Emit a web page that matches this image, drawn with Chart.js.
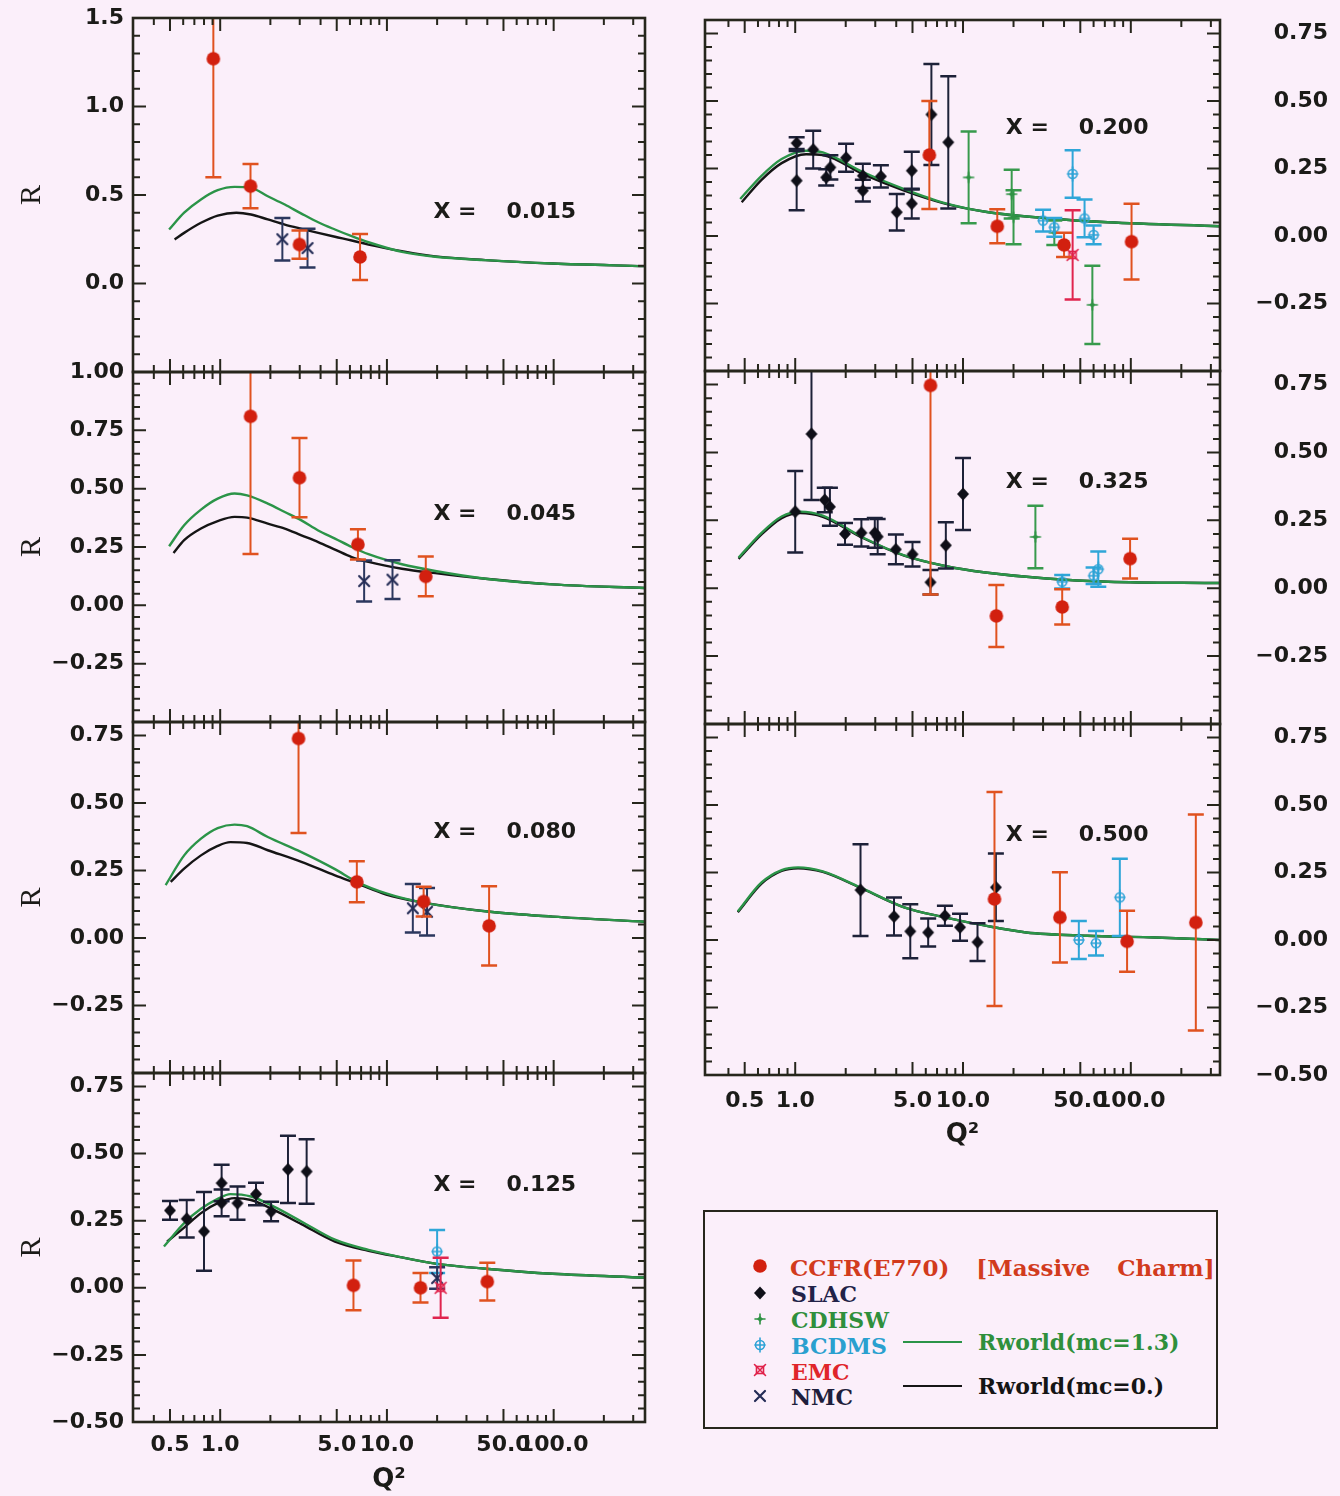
<!DOCTYPE html>
<html>
<head>
<meta charset="utf-8">
<title>R versus Q²</title>
<script src="https://cdn.jsdelivr.net/npm/chart.js@4.4.1/dist/chart.umd.min.js"></script>
<style>
  html, body { margin: 0; padding: 0; background: #fbeffa; }
  #fig { position: relative; width: 1340px; height: 1496px; overflow: hidden; background: #fbeffa; }
  #fig canvas { position: absolute; }
  #legendBox { position: absolute; left: 703px; top: 1210px; width: 511px; height: 215px; border: 2.5px solid #26261c; }
  .lgtxt { position: absolute; font-family: "DejaVu Serif", serif; font-weight: bold; font-size: 22px; line-height: 26px; white-space: pre; }
  .lgline { position: absolute; height: 2px; }
</style>
</head>
<body>
<div id="fig">
  <div id="legendBox"></div>
  <div class="lgtxt" style="left:790px;top:1255px;font-size:23px;color:#d23b1d;word-spacing:19px">CCFR(E770) [Massive Charm]</div>
  <div class="lgtxt" style="left:791px;top:1281px;color:#222248">SLAC</div>
  <div class="lgtxt" style="left:791px;top:1307px;color:#2f8f3c">CDHSW</div>
  <div class="lgtxt" style="left:791px;top:1333px;color:#2aa0cf">BCDMS</div>
  <div class="lgtxt" style="left:791px;top:1359px;color:#e0242a">EMC</div>
  <div class="lgtxt" style="left:791px;top:1384px;color:#1e1e3c">NMC</div>
  <div class="lgline" style="left:903px;top:1341px;width:59px;background:#2b9448"></div>
  <div class="lgline" style="left:903px;top:1385px;width:59px;background:#151515"></div>
  <div class="lgtxt" style="left:978px;top:1329px;color:#2f8f3c">Rworld(mc=1.3)</div>
  <div class="lgtxt" style="left:978px;top:1373px;color:#151515">Rworld(mc=0.)</div>
</div>
<script>
// ---------- measurements: [Q², R, error] ----------
// x = 0.015
const X015_CCFR = [[0.91,1.27,0.67],[1.52,0.55,0.125],[2.99,0.22,0.08],[6.9,0.15,0.13]];
const X015_NMC  = [[2.36,0.25,0.12],[3.34,0.20,0.11]];
// x = 0.045
const X045_CCFR = [[1.52,0.81,0.59],[2.99,0.547,0.17],[6.7,0.261,0.065],[17.1,0.124,0.085]];
const X045_NMC  = [[7.3,0.104,0.088],[10.8,0.11,0.083]];
// x = 0.080
const X080_CCFR = [[2.95,0.739,0.35],[6.6,0.208,0.076],[16.6,0.135,0.055],[41,0.045,0.147]];
const X080_NMC  = [[14.3,0.11,0.09],[17.4,0.097,0.088]];
// x = 0.125
const X125_SLAC = [[0.5,0.288,0.035],[0.63,0.257,0.07],[0.80,0.21,0.147],[1.02,0.39,0.068],[1.02,0.316,0.05],
                   [1.27,0.315,0.062],[1.64,0.349,0.042],[2.02,0.284,0.036],[2.55,0.441,0.125],[3.3,0.433,0.12]];
const X125_CCFR = [[6.3,0.009,0.093],[15.9,0.0,0.055],[40,0.023,0.07]];
const X125_BCDMS = [[20,0.135,0.08]];
const X125_NMC  = [[20,0.036,0.04]];
const X125_EMC  = [[21,0.0,0.112]];
// x = 0.200
const X200_SLAC = [[1.02,0.344,0.022],[1.02,0.205,0.11],[1.28,0.32,0.07],[1.53,0.217,0.03],[1.62,0.254,0.045],
                   [2.01,0.29,0.052],[2.53,0.223,0.045],[2.53,0.168,0.04],[3.24,0.221,0.041],[4.03,0.088,0.068],
                   [4.95,0.242,0.07],[4.95,0.12,0.055],[6.48,0.45,0.187],[8.17,0.347,0.245]];
const X200_CCFR = [[6.3,0.30,0.20],[16.0,0.036,0.063],[40,-0.033,0.045],[101,-0.021,0.14]];
const X200_CDHSW = [[10.8,0.217,0.17],[19.5,0.155,0.09],[20,0.069,0.1],[35,0.012,0.045],[59,-0.255,0.145]];
const X200_BCDMS = [[30,0.057,0.04],[35,0.032,0.035],[45,0.23,0.088],[53,0.065,0.07],[60,0.004,0.035]];
const X200_EMC  = [[45,-0.07,0.165]];
// x = 0.325
const X325_SLAC = [[1.0,0.282,0.15],[1.25,0.568,0.243],[1.5,0.325,0.045],[1.61,0.3,0.07],[1.98,0.2,0.04],
                   [2.48,0.204,0.05],[2.98,0.204,0.055],[3.1,0.19,0.065],[3.98,0.143,0.055],[5.0,0.125,0.045],
                   [6.4,0.022,0.045],[7.9,0.158,0.085],[10.0,0.347,0.133]];
const X325_CCFR = [[6.4,0.747,0.77],[15.8,-0.102,0.114],[39,-0.069,0.065],[99,0.109,0.073]];
const X325_CDHSW = [[27,0.189,0.115]];
const X325_BCDMS = [[39,0.024,0.025],[60,0.046,0.03],[64,0.07,0.065]];
// x = 0.500
const X500_SLAC = [[2.45,0.185,0.17],[3.88,0.087,0.07],[4.85,0.032,0.1],[6.2,0.028,0.052],[7.8,0.09,0.037],
                   [9.6,0.047,0.05],[12.2,-0.008,0.07],[15.7,0.195,0.125]];
const X500_CCFR = [[15.4,0.152,0.396],[37.8,0.084,0.167],[95,-0.005,0.113],[244,0.065,0.4]];
const X500_BCDMS = [[49,0.0,0.07],[62,-0.012,0.045],[86,0.158,0.143]];

// ---------- Rworld curves: [Q², R] ----------
const X015_RW13 = [[0.494,0.305],[0.608,0.40],[0.767,0.475],[0.966,0.527],[1.22,0.546],[1.53,0.54],[1.93,0.493],[2.44,0.446],[3.07,0.395],[3.87,0.346],[4.88,0.305],[6.15,0.267],[7.75,0.233],[12.3,0.179],[19.5,0.151],[39,0.132],[98.6,0.113],[353,0.098]];
const X015_RW0  = [[0.533,0.249],[0.608,0.286],[0.767,0.343],[0.966,0.384],[1.25,0.40],[1.53,0.39],[1.93,0.362],[2.44,0.333],[3.07,0.309],[3.87,0.286],[4.88,0.264],[6.15,0.243],[7.75,0.22],[12.3,0.183],[19.5,0.153],[39,0.132],[98.6,0.113],[353,0.098]];
const X045_RW13 = [[0.494,0.253],[0.608,0.343],[0.767,0.41],[0.966,0.457],[1.22,0.479],[1.45,0.471],[1.93,0.436],[2.44,0.40],[3.07,0.364],[3.87,0.321],[4.88,0.286],[6.15,0.25],[7.75,0.219],[12.3,0.176],[19.5,0.147],[39,0.114],[98.6,0.09],[353,0.074]];
const X045_RW0  = [[0.525,0.224],[0.608,0.279],[0.767,0.329],[0.966,0.361],[1.22,0.379],[1.45,0.376],[1.93,0.35],[2.44,0.329],[3.07,0.30],[3.87,0.271],[4.88,0.239],[6.15,0.207],[7.75,0.186],[12.3,0.157],[19.5,0.138],[39,0.114],[98.6,0.09],[353,0.074]];
const X080_RW13 = [[0.471,0.196],[0.608,0.306],[0.767,0.368],[0.966,0.407],[1.22,0.42],[1.45,0.414],[1.93,0.374],[3.07,0.318],[4.88,0.255],[6.6,0.208],[9.9,0.165],[15.6,0.134],[41.5,0.097],[98.6,0.079],[353,0.06]];
const X080_RW0  = [[0.505,0.208],[0.608,0.257],[0.767,0.306],[0.966,0.341],[1.15,0.355],[1.45,0.352],[1.93,0.325],[3.07,0.282],[4.88,0.232],[6.6,0.202],[9.9,0.161],[15.6,0.134],[41.5,0.097],[98.6,0.079],[353,0.06]];
const X125_RW13 = [[0.46,0.154],[0.608,0.241],[0.767,0.294],[0.966,0.331],[1.15,0.349],[1.53,0.34],[2.1,0.302],[3.07,0.247],[4.88,0.179],[7.75,0.141],[12.3,0.113],[19.5,0.09],[39,0.071],[98.6,0.052],[353,0.038]];
const X125_RW0  = [[0.48,0.172],[0.608,0.224],[0.767,0.278],[0.966,0.315],[1.22,0.334],[1.53,0.327],[2.1,0.29],[3.07,0.237],[4.88,0.172],[7.75,0.138],[12.3,0.113],[19.5,0.09],[39,0.071],[98.6,0.052],[353,0.038]];
const X200_RW13 = [[0.47,0.137],[0.63,0.223],[0.83,0.285],[1.16,0.316],[1.46,0.31],[2.55,0.236],[4.46,0.174],[7.8,0.122],[13.6,0.09],[31.5,0.066],[73,0.051],[340,0.036]];
const X200_RW0  = [[0.48,0.125],[0.63,0.208],[0.83,0.27],[1.16,0.303],[1.46,0.30],[2.55,0.228],[4.46,0.168],[7.8,0.12],[13.6,0.09],[31.5,0.066],[73,0.051],[340,0.036]];
const X325_RW13 = [[0.46,0.113],[0.63,0.204],[0.83,0.264],[1.07,0.282],[1.46,0.267],[2.55,0.186],[4.46,0.121],[7.8,0.082],[13.6,0.058],[31.5,0.036],[73,0.024],[340,0.019]];
const X325_RW0  = [[0.46,0.108],[0.63,0.198],[0.83,0.258],[1.07,0.277],[1.46,0.263],[2.55,0.184],[4.46,0.12],[7.8,0.082],[13.6,0.058],[31.5,0.036],[73,0.024],[340,0.019]];
const X500_RW13 = [[0.455,0.106],[0.63,0.213],[0.83,0.259],[1.04,0.269],[1.46,0.254],[2.55,0.189],[4.46,0.121],[7.8,0.084],[13.6,0.053],[23.8,0.028],[55,0.016],[128,0.01],[340,0.0]];
const X500_RW0  = [[0.455,0.103],[0.63,0.209],[0.83,0.256],[1.04,0.266],[1.46,0.252],[2.55,0.188],[4.46,0.121],[7.8,0.084],[13.6,0.053],[23.8,0.028],[55,0.016],[128,0.01],[340,0.0]];

// ---------- axis ticks ----------
const Q_LABELS = [0.5, 1, 5, 10, 50, 100];
const Q_LABEL_TEXT = ['0.5', '1.0', '5.0', '10.0', '50.0', '100.0'];
const Q_TICKS = [0.4,0.5,0.6,0.7,0.8,0.9,1,2,3,4,5,6,7,8,9,10,20,30,40,50,60,70,80,90,100,200,300];
const Y_LABELS_X015 = [1.5, 1.0, 0.5, 0.0];
const Y_LABELS_MID  = [1.0, 0.75, 0.5, 0.25, 0.0, -0.25];
const Y_LABELS_UP   = [0.75, 0.5, 0.25, 0.0, -0.25];
const Y_LABELS_LOW  = [0.75, 0.5, 0.25, 0.0, -0.25, -0.5];

// ---------- styling ----------
const INK = '#1b1b18';
const TICK_FONT = { family: 'DejaVu Sans', size: 22, weight: 'bold' };
const GREEN = '#2b9448', BLACK = '#151515';
const ERR_COLOR = { ccfr: '#e0521f', slac: '#1d2138', cdhsw: '#379a4c', bcdms: '#2fa6d8', emc: '#e0244e', nmc: '#2b375e' };

function makeMarker(kind) {
  const c = document.createElement('canvas');
  c.width = 20; c.height = 20;
  const g = c.getContext('2d');
  g.translate(10, 10);
  g.lineCap = 'round';
  if (kind === 'ccfr') {
    g.fillStyle = '#d2200f'; g.beginPath(); g.arc(0, 0, 6.8, 0, Math.PI * 2); g.fill();
  } else if (kind === 'slac') {
    g.fillStyle = '#0f0f18'; g.beginPath();
    g.moveTo(0, -6.5); g.lineTo(6, 0); g.lineTo(0, 6.5); g.lineTo(-6, 0); g.closePath(); g.fill();
  } else if (kind === 'cdhsw') {
    g.strokeStyle = g.fillStyle = '#2f9244'; g.lineWidth = 1.6;
    g.beginPath(); g.moveTo(-5, 0); g.lineTo(5, 0); g.moveTo(0, -5); g.lineTo(0, 5); g.stroke();
    g.beginPath(); g.moveTo(0, -3); g.lineTo(3, 0); g.lineTo(0, 3); g.lineTo(-3, 0); g.closePath(); g.fill();
  } else if (kind === 'bcdms') {
    g.strokeStyle = '#2ea3d6'; g.lineWidth = 1.6;
    g.beginPath(); g.arc(0, 0, 4.5, 0, Math.PI * 2); g.stroke();
    g.beginPath(); g.moveTo(-5, 0); g.lineTo(5, 0); g.moveTo(0, -7); g.lineTo(0, 7); g.stroke();
  } else if (kind === 'emc') {
    g.strokeStyle = '#e0224a'; g.lineWidth = 1.6;
    g.strokeRect(-3.5, -3.5, 7, 7);
    g.beginPath(); g.moveTo(-5.5, -5.5); g.lineTo(5.5, 5.5); g.moveTo(5.5, -5.5); g.lineTo(-5.5, 5.5); g.stroke();
  } else if (kind === 'nmc') {
    g.strokeStyle = '#242c56'; g.lineWidth = 2.2;
    g.beginPath(); g.moveTo(-5, -5); g.lineTo(5, 5); g.moveTo(5, -5); g.lineTo(-5, 5); g.stroke();
  }
  return c;
}
const MARKERS = {};
['ccfr', 'slac', 'cdhsw', 'bcdms', 'emc', 'nmc'].forEach(k => { MARKERS[k] = makeMarker(k); });

// vertical error bars with caps, drawn just before each point dataset
const errorBars = {
  id: 'errorBars',
  beforeDatasetDraw(chart, args) {
    const ds = chart.data.datasets[args.index];
    if (!ds.errColor) return;
    const { ctx, chartArea: a, scales: { x, y } } = chart;
    ctx.save();
    ctx.beginPath(); ctx.rect(a.left, a.top, a.right - a.left, a.bottom - a.top); ctx.clip();
    ctx.strokeStyle = ds.errColor;
    for (const p of ds.data) {
      const px = x.getPixelForValue(p.x);
      const yt = y.getPixelForValue(p.y + p.e);
      const yb = y.getPixelForValue(p.y - p.e);
      ctx.lineWidth = 2;
      ctx.beginPath(); ctx.moveTo(px, yt); ctx.lineTo(px, yb); ctx.stroke();
      ctx.lineWidth = 2.5;
      ctx.beginPath();
      ctx.moveTo(px - 8, yt); ctx.lineTo(px + 8, yt);
      ctx.moveTo(px - 8, yb); ctx.lineTo(px + 8, yb);
      ctx.stroke();
    }
    ctx.restore();
  }
};

// boxed frame with inward ticks on all four sides
const frameTicks = {
  id: 'frameTicks',
  afterDraw(chart, args, opts) {
    const { ctx, chartArea: a, scales: { x, y } } = chart;
    ctx.save();
    ctx.strokeStyle = '#26261c';
    ctx.lineWidth = 2;
    ctx.beginPath();
    for (const v of Q_TICKS) {
      const px = x.getPixelForValue(v);
      const len = Q_LABELS.includes(v) ? 13 : 7;
      ctx.moveTo(px, a.top); ctx.lineTo(px, a.top + len);
      ctx.moveTo(px, a.bottom); ctx.lineTo(px, a.bottom - len);
    }
    const n = Math.round((opts.max - opts.min) / opts.minor);
    for (let i = 0; i <= n; i++) {
      const v = opts.min + i * opts.minor;
      const r = v / opts.major;
      const len = Math.abs(r - Math.round(r)) < 1e-6 ? 13 : 7;
      const py = y.getPixelForValue(v);
      ctx.moveTo(a.left, py); ctx.lineTo(a.left + len, py);
      ctx.moveTo(a.right, py); ctx.lineTo(a.right - len, py);
    }
    ctx.stroke();
    ctx.lineWidth = 2.6;
    ctx.strokeRect(a.left, a.top, a.right - a.left, a.bottom - a.top);
    ctx.restore();
  }
};

// "X =  value" tag inside each panel
const xTag = {
  id: 'xTag',
  afterDatasetsDraw(chart, args, opts) {
    const { ctx, scales: { x, y } } = chart;
    const px = x.getPixelForValue(opts.q), py = y.getPixelForValue(opts.r);
    ctx.save();
    ctx.font = 'bold 22px "DejaVu Sans"';
    ctx.fillStyle = INK;
    ctx.textBaseline = 'middle';
    ctx.textAlign = 'left';
    ctx.fillText('X =', px, py);
    ctx.fillText(opts.text, px + 73, py);
    ctx.restore();
  }
};

const LEFT_COL  = { left: 0,   width: 660, padLeft: 0,  axisW: 133, padRight: 15, qMin: 0.316, qMax: 353, axisPos: 'left',  tagQ: 19 };
const RIGHT_COL = { left: 690, width: 650, padLeft: 15, axisW: 108, padRight: 12, qMin: 0.29,  qMax: 340, axisPos: 'right', tagQ: 18 };

const PANELS = [
  { col: LEFT_COL, top: 18, bottom: 372, yMin: -0.5, yMax: 1.5, major: 0.5, minor: 0.1, labels: Y_LABELS_X015, dec: 1,
    tag: '0.015', tagR: 0.40, sets: [['ccfr', X015_CCFR], ['nmc', X015_NMC]], rw13: X015_RW13, rw0: X015_RW0 },
  { col: LEFT_COL, top: 372, bottom: 722, yMin: -0.5, yMax: 1.0, major: 0.25, minor: 0.05, labels: Y_LABELS_MID, dec: 2,
    tag: '0.045', tagR: 0.39, sets: [['ccfr', X045_CCFR], ['nmc', X045_NMC]], rw13: X045_RW13, rw0: X045_RW0 },
  { col: LEFT_COL, top: 722, bottom: 1073, yMin: -0.5, yMax: 0.8, major: 0.25, minor: 0.05, labels: Y_LABELS_UP, dec: 2,
    tag: '0.080', tagR: 0.39, sets: [['ccfr', X080_CCFR], ['nmc', X080_NMC]], rw13: X080_RW13, rw0: X080_RW0 },
  { col: LEFT_COL, top: 1073, bottom: 1422, yMin: -0.5, yMax: 0.8, major: 0.25, minor: 0.05, labels: Y_LABELS_LOW, dec: 2,
    tag: '0.125', tagR: 0.383, bottomAxis: { h: 74, pad: 10 },
    sets: [['ccfr', X125_CCFR], ['emc', X125_EMC], ['nmc', X125_NMC], ['bcdms', X125_BCDMS], ['slac', X125_SLAC]],
    rw13: X125_RW13, rw0: X125_RW0 },
  { col: RIGHT_COL, top: 20, bottom: 371, yMin: -0.5, yMax: 0.8, major: 0.25, minor: 0.05, labels: Y_LABELS_UP, dec: 2,
    tag: '0.200', tagR: 0.40,
    sets: [['ccfr', X200_CCFR], ['emc', X200_EMC], ['bcdms', X200_BCDMS], ['cdhsw', X200_CDHSW], ['slac', X200_SLAC]],
    rw13: X200_RW13, rw0: X200_RW0 },
  { col: RIGHT_COL, top: 371, bottom: 724, yMin: -0.5, yMax: 0.8, major: 0.25, minor: 0.05, labels: Y_LABELS_UP, dec: 2,
    tag: '0.325', tagR: 0.39,
    sets: [['ccfr', X325_CCFR], ['bcdms', X325_BCDMS], ['cdhsw', X325_CDHSW], ['slac', X325_SLAC]],
    rw13: X325_RW13, rw0: X325_RW0 },
  { col: RIGHT_COL, top: 724, bottom: 1075, yMin: -0.5, yMax: 0.8, major: 0.25, minor: 0.05, labels: Y_LABELS_LOW, dec: 2,
    tag: '0.500', tagR: 0.387, bottomAxis: { h: 76, pad: 13 },
    sets: [['ccfr', X500_CCFR], ['bcdms', X500_BCDMS], ['slac', X500_SLAC]],
    rw13: X500_RW13, rw0: X500_RW0 }
];

function fmt(v, dec) {
  const s = Math.abs(v).toFixed(dec);
  return v < -1e-9 ? '\u2212' + s : s;
}

const fig = document.getElementById('fig');
// generous outer margin so the axis label overhang never shrinks the plotting box
const MARGIN = 60;

PANELS.forEach(p => {
  const col = p.col;
  const xH = p.bottomAxis ? p.bottomAxis.h : 0;
  const padBottom = p.bottomAxis ? 0 : MARGIN;
  const cv = document.createElement('canvas');
  cv.width = col.width;
  cv.height = (p.bottom - p.top) + MARGIN + padBottom + xH;
  cv.style.left = col.left + 'px';
  cv.style.top = (p.top - MARGIN) + 'px';
  fig.insertBefore(cv, fig.firstChild);

  const datasets = p.sets.map(([kind, arr]) => ({
    label: kind,
    data: arr.map(([q, r, e]) => ({ x: q, y: r, e })),
    pointStyle: MARKERS[kind],
    pointRadius: 6,
    showLine: false,
    errColor: ERR_COLOR[kind]
  }));
  datasets.push({
    label: 'Rworld(mc=1.3)', data: p.rw13.map(([q, r]) => ({ x: q, y: r })),
    showLine: true, pointRadius: 0, borderColor: GREEN, borderWidth: 2.4, cubicInterpolationMode: 'monotone', fill: false
  });
  datasets.push({
    label: 'Rworld(mc=0.)', data: p.rw0.map(([q, r]) => ({ x: q, y: r })),
    showLine: true, pointRadius: 0, borderColor: BLACK, borderWidth: 2.4, cubicInterpolationMode: 'monotone', fill: false
  });

  const left = col.axisPos === 'left';
  new Chart(cv, {
    type: 'scatter',
    data: { datasets },
    options: {
      responsive: false,
      animation: false,
      devicePixelRatio: 1,
      events: [],
      layout: { padding: { top: MARGIN, bottom: padBottom, left: col.padLeft, right: col.padRight } },
      plugins: {
        legend: { display: false },
        tooltip: { enabled: false },
        frameTicks: { min: p.yMin, max: p.yMax, major: p.major, minor: p.minor },
        xTag: { q: col.tagQ, r: p.tagR, text: p.tag }
      },
      scales: {
        x: {
          type: 'logarithmic', min: col.qMin, max: col.qMax, position: 'bottom',
          grid: { display: false, drawTicks: false }, border: { display: false },
          afterBuildTicks: s => { s.ticks = Q_LABELS.map(v => ({ value: v })); },
          afterFit: s => { s.height = xH; },
          ticks: {
            display: !!p.bottomAxis, autoSkip: false, maxRotation: 0, minRotation: 0,
            padding: p.bottomAxis ? p.bottomAxis.pad : 0, font: TICK_FONT, color: INK,
            callback: v => Q_LABEL_TEXT[Q_LABELS.indexOf(v)]
          },
          title: { display: !!p.bottomAxis, text: 'Q\u00B2', color: INK, padding: 0,
                   font: { family: 'DejaVu Sans', size: 26, weight: 'bold' } }
        },
        y: {
          type: 'linear', min: p.yMin, max: p.yMax, position: col.axisPos,
          grid: { display: false, drawTicks: false }, border: { display: false },
          afterBuildTicks: s => { s.ticks = p.labels.map(v => ({ value: v })); },
          afterFit: s => { s.width = col.axisW; },
          ticks: {
            padding: left ? 9 : 30, crossAlign: left ? 'near' : 'far',
            font: TICK_FONT, color: INK, callback: v => fmt(v, p.dec)
          },
          title: { display: left, text: 'R', color: INK, padding: { top: 14, bottom: 0 },
                   font: { family: 'Liberation Serif', size: 30 } }
        }
      }
    },
    plugins: [errorBars, frameTicks, xTag]
  });
});

// legend symbols
const LEGEND_ROWS = [['ccfr', 1266], ['slac', 1293], ['cdhsw', 1319], ['bcdms', 1345], ['emc', 1370], ['nmc', 1396]];
LEGEND_ROWS.forEach(([kind, cy]) => {
  const c = makeMarker(kind);
  c.style.left = (760 - 10) + 'px';
  c.style.top = (cy - 10) + 'px';
  fig.appendChild(c);
});
</script>
</body>
</html>
